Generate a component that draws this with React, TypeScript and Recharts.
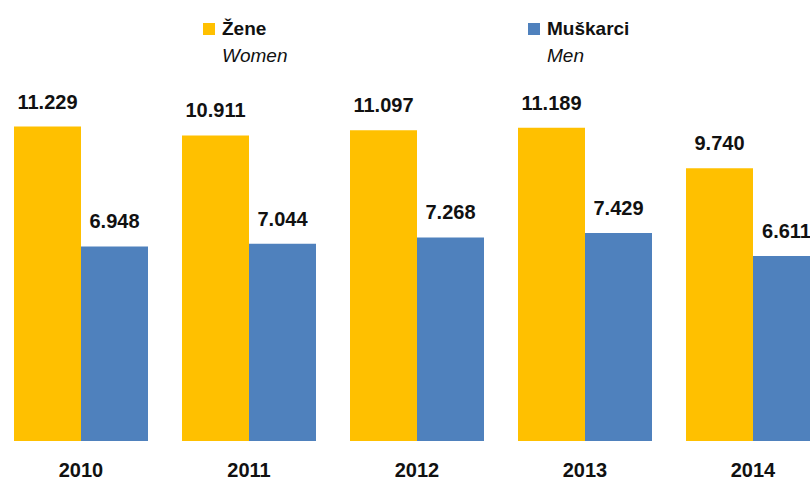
import React from "react";
import { BarChart, Bar, XAxis, YAxis, LabelList, Legend } from "recharts";

const years = ["2010", "2011", "2012", "2013", "2014"];
const women = [11229, 10911, 11097, 11189, 9740];
const men = [6948, 7044, 7268, 7429, 6611];

const WOMEN_COLOR = "#FFC000";
const MEN_COLOR = "#4F81BD";

const data = years.map((year, i) => ({ year, women: women[i], men: men[i] }));

// 11229 -> "11.229"
const fmt = (v: any) => Number(v).toLocaleString("de-DE");

const legendItems = [
  { name: "Žene", sub: "Women", color: WOMEN_COLOR, left: 206 },
  { name: "Muškarci", sub: "Men", color: MEN_COLOR, left: 531 },
];

const LegendBox = () => (
  <div style={{ position: "relative", width: 840, height: 70 }}>
    {legendItems.map((it) => (
      <div key={it.name}>
        <div
          style={{
            position: "absolute",
            left: it.left,
            top: 23,
            width: 12,
            height: 12,
            background: it.color,
          }}
        />
        <div
          style={{
            position: "absolute",
            left: it.left + 19,
            top: 19,
            fontSize: 19,
            lineHeight: 1,
            fontWeight: "bold",
            color: "#111",
            whiteSpace: "nowrap",
          }}
        >
          {it.name}
        </div>
        <div
          style={{
            position: "absolute",
            left: it.left + 19,
            top: 46,
            fontSize: 19,
            lineHeight: 1,
            fontStyle: "italic",
            color: "#111",
            whiteSpace: "nowrap",
          }}
        >
          {it.sub}
        </div>
      </div>
    ))}
  </div>
);

export default function App() {
  return (
    <div
      style={{
        position: "fixed",
        left: 0,
        top: 0,
        width: 810,
        height: 479,
        overflow: "hidden",
        background: "#fff",
        fontFamily: "'Liberation Sans', Arial, sans-serif",
      }}
    >
      <div style={{ position: "absolute", left: -3, top: 0 }}>
        <BarChart
          width={840}
          height={479}
          data={data}
          margin={{ top: 105, right: 0, bottom: 0, left: 0 }}
          barCategoryGap={17}
          barGap={0}
        >
          <XAxis
            dataKey="year"
            height={38}
            axisLine={false}
            tickLine={false}
            tickSize={0}
            tickMargin={22}
            tick={{ fill: "#111", fontSize: 20, fontWeight: "bold" }}
          />
          <YAxis hide domain={[0, 12000]} />
          <Legend
            layout="horizontal"
            verticalAlign="middle"
            align="center"
            wrapperStyle={{ top: 0, left: 0, width: 840 }}
            content={() => <LegendBox />}
          />
          <Bar dataKey="women" fill={WOMEN_COLOR} isAnimationActive={false}>
            <LabelList
              dataKey="women"
              position="top"
              offset={18}
              formatter={fmt}
              style={{ fill: "#111", fontSize: 20, fontWeight: "bold" }}
            />
          </Bar>
          <Bar dataKey="men" fill={MEN_COLOR} isAnimationActive={false}>
            <LabelList
              dataKey="men"
              position="top"
              offset={18}
              formatter={fmt}
              style={{ fill: "#111", fontSize: 20, fontWeight: "bold" }}
            />
          </Bar>
        </BarChart>
      </div>
    </div>
  );
}
